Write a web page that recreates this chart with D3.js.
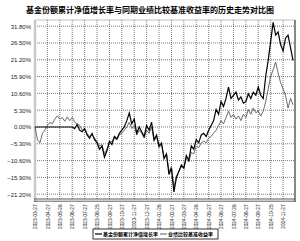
<!DOCTYPE html>
<html lang="zh">
<head>
  <meta charset="UTF-8">
  <title>基金份额累计净值增长率与同期业绩比较基准收益率的历史走势对比图</title>
  <style>
    body { margin: 0; background: #fff; }
    svg { display: block; }
    .title {
      font-family: "Noto Sans CJK SC", sans-serif;
      font-weight: bold;
      font-size: 8px;
      text-anchor: middle;
    }
    .yaxis text, .xaxis text {
      font-family: "Liberation Sans", Arial, sans-serif;
      fill: #222;
    }
    .grid line {
      stroke: #555;
      stroke-width: 0.8;
      stroke-dasharray: 1,1;
    }
    .legend text {
      font-family: "Noto Sans CJK SC", sans-serif;
      font-size: 5px;
      font-weight: bold;
    }
  </style>
</head>
<body>
  <svg width="300" height="241"></svg>
  <script src="https://cdn.jsdelivr.net/npm/d3@7/dist/d3.min.js"></script>
  <script>
    // tick labels on the x axis (one every 5 points)
    var dates = ['2023-03-27', '2023-04-27', '2023-05-26', '2023-06-27', '2023-07-27',
      '2023-08-25', '2023-09-27', '2023-10-27', '2023-11-27', '2023-12-27', '2024-01-26',
      '2024-02-27', '2024-03-27', '2024-04-26', '2024-05-27', '2024-06-27', '2024-07-26',
      '2024-08-27', '2024-09-27', '2024-10-25', '2024-11-27']

    var yTicks = [31.8, 26.5, 21.2, 15.9, 10.6, 5.3, 0, -5.3, -10.6, -15.9, -21.2]

    // 基金份额累计净值增长率 (%)
    var fund = [0, 0, 0, 0, 0, 0, 0, 0, 0, 0, 0, 0, 0, 0, 0, 0,
      -0.5, 0.8, -1.0, -1.5, -0.5, -2.5, -3.5, -2.0, -4.0, -5.0,
      -7.0, -6.0, -9.5, -7.5, -4.5, -5.5, -3.0, -3.8, -2.0, -1.0,
      0.0, 2.0, 4.4, 1.0, 2.5, -2.0, 0.0, -1.5, -3.0, 0.5,
      -1.0, 1.5, -4.0, -2.5, -6.0, -5.0, -10.0, -8.5, -15.0, -13.0,
      -20.5, -16.0, -14.0, -12.0, -13.0, -9.0, -10.5, -6.0, -7.0, -4.0,
      -5.0, -2.5, -2.0, -3.0, -1.0, 0.5, 2.0, 5.5, 4.0, 8.0,
      6.5, 9.0, 12.6, 9.0, 10.0, 11.0, 8.5, 9.5, 7.5, 8.0,
      10.5, 9.0, 11.0, 10.0, 12.6, 10.0, 9.0, 16.0, 21.0, 27.0,
      33.0, 29.0, 30.0, 26.0, 24.0, 28.0, 29.0, 25.0, 21.0]

    // 业绩比较基准收益率 (%)
    var bench = [0, -4, -5, -2, -1, 0.5, 1.5, 1, 2.5, 3.5,
      2.5, 3, 1.8, 3.2, 2, 3, 1.5, 1, 0.5, -1,
      -0.5, -2, -3, -2.5, -3.5, -4.5, -6, -5.5, -8.5, -7,
      -5, -4.5, -3.5, -4, -2.5, -2, -1, 0, 1.5, -0.5,
      0.5, -2.5, -1, -2, -3.5, -1, -2, 0, -4.5, -3,
      -6.5, -5.5, -9.5, -8.5, -14, -12.5, -19, -15.5, -14, -12.5,
      -13, -10, -11, -8, -8.5, -6, -6.5, -5, -4.5, -5,
      -3.5, -3, -2, -1, 0.5, 2, 1, 3, 5, 3,
      4, 2.5, 3.5, 2, 4, 3, 5.5, 4, 6, 4.5,
      5, 3.5, 5, 8, 12, 16, 18, 20.5, 17, 14,
      12, 10, 6, 9, 7]

    var svg = d3.select('svg')
    var plotL = 35, plotR = 295, plotT = 20, plotB = 200

    var x = d3.scaleLinear()
      .domain([0, fund.length - 1])
      .range([plotL, plotR - 2])

    var y = d3.scaleLinear()
      .domain([-23.03, 33.75])
      .range([plotB, plotT])

    svg.append('text')
      .attr('class', 'title')
      .attr('x', 150)
      .attr('y', 13)
      .text('基金份额累计净值增长率与同期业绩比较基准收益率的历史走势对比图')

    var tickIdx = dates.map(function(d, i) { return i * 5 })

    // grid
    var grid = svg.append('g').attr('class', 'grid')
    grid.selectAll('.h').data(yTicks).enter().append('line')
      .attr('x1', plotL).attr('x2', plotR)
      .attr('y1', function(d) { return y(d) })
      .attr('y2', function(d) { return y(d) })
    grid.selectAll('.v').data(tickIdx.slice(1)).enter().append('line')
      .attr('x1', function(d) { return x(d) })
      .attr('x2', function(d) { return x(d) })
      .attr('y1', plotT).attr('y2', plotB)

    // frame
    svg.append('line').attr('x1', plotL).attr('x2', plotR).attr('y1', plotT).attr('y2', plotT)
      .attr('stroke', '#999').attr('stroke-width', 0.6)
    svg.append('line').attr('x1', plotR).attr('x2', plotR).attr('y1', plotT).attr('y2', plotB + 2)
      .attr('stroke', '#111').attr('stroke-width', 1)
    svg.append('line').attr('x1', plotL).attr('x2', plotL).attr('y1', plotT).attr('y2', plotB + 2)
      .attr('stroke', '#c8c8c8').attr('stroke-width', 2.5)
    svg.append('line').attr('x1', plotL - 1).attr('x2', plotR).attr('y1', plotB - 1).attr('y2', plotB - 1)
      .attr('stroke', '#333').attr('stroke-width', 0.8)
    svg.append('line').attr('x1', plotL - 1).attr('x2', plotR).attr('y1', plotB + 1.2).attr('y2', plotB + 1.2)
      .attr('stroke', '#333').attr('stroke-width', 0.8)

    // y axis labels
    var yAxis = d3.axisLeft(y)
      .tickValues(yTicks)
      .tickSize(0)
      .tickPadding(4)
      .tickFormat(function(d) { return d3.format('.2f')(d) + '%' })
    svg.append('g')
      .attr('class', 'yaxis')
      .attr('transform', 'translate(' + plotL + ',0)')
      .call(yAxis)
      .call(function(g) { g.select('.domain').remove() })
      .selectAll('text').attr('font-size', 6)

    // x axis labels, rotated
    var xAxis = d3.axisBottom(x)
      .tickValues(tickIdx)
      .tickSize(0)
      .tickFormat(function(d) { return dates[d / 5] })
    svg.append('g')
      .attr('class', 'xaxis')
      .attr('transform', 'translate(0,' + (plotB + 3) + ')')
      .call(xAxis)
      .call(function(g) { g.select('.domain').remove() })
      .selectAll('text')
      .attr('font-size', 4.8)
      .attr('transform', 'rotate(-90)')
      .attr('text-anchor', 'end')
      .attr('dy', '0.35em')
      .attr('dx', '-0.3em')
      .attr('y', 0)
      .attr('x', 0)

    var line = d3.line()
      .x(function(d, i) { return x(i) })
      .y(function(d) { return y(d) })

    svg.append('path')
      .datum(bench)
      .attr('d', line)
      .attr('fill', 'none')
      .attr('stroke', '#5a5a5a')
      .attr('stroke-width', 0.9)

    svg.append('path')
      .datum(fund)
      .attr('d', line)
      .attr('fill', 'none')
      .attr('stroke', '#000')
      .attr('stroke-width', 1.2)

    // legend
    var lg = svg.append('g').attr('class', 'legend').attr('transform', 'translate(93,229)')
    lg.append('rect').attr('width', 125).attr('height', 10)
      .attr('fill', '#fff').attr('stroke', '#000').attr('stroke-width', 0.8)
    lg.append('line').attr('x1', 2).attr('x2', 9).attr('y1', 5).attr('y2', 5)
      .attr('stroke', '#000').attr('stroke-width', 1.2)
    lg.append('text').attr('x', 10).attr('y', 7).text('基金份额累计净值增长率')
    lg.append('line').attr('x1', 67).attr('x2', 74).attr('y1', 5).attr('y2', 5)
      .attr('stroke', '#5a5a5a').attr('stroke-width', 1)
    lg.append('text').attr('x', 75).attr('y', 7).text('业绩比较基准收益率')
  </script>
</body>
</html>
